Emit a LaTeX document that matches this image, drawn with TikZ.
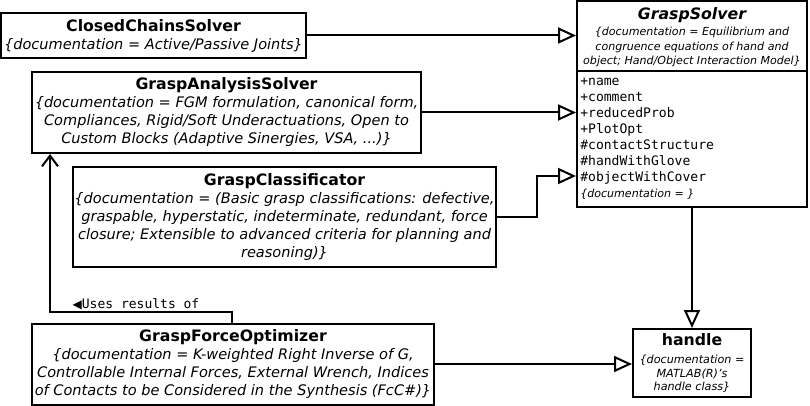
\documentclass[tikz,border=0pt]{standalone}
\usepackage{fontspec}
\setmainfont{DejaVu Sans}[Ligatures=ResetAll]
\setmonofont{DejaVu Sans Mono}
\newfontfamily\symfont{DejaVu Sans}
\usetikzlibrary{arrows.meta}
\newcommand\tfont{\fontsize{11.8}{13.5}\selectfont\bfseries\upshape}
\newcommand\dfont{\fontsize{10.9}{13.5}\selectfont\itshape}
\newcommand\sdfont{\fontsize{8.3}{10.9}\selectfont\itshape}
\begin{document}
\begin{tikzpicture}[x=0.75pt,y=-0.75pt,
  box/.style={draw, line width=1.5pt, rectangle, inner sep=0pt, align=center, fill=white, line join=miter},
  inh/.style={line width=1.5pt, -{Triangle[open,length=13.5pt,width=12pt]}},
  uses/.style={line width=1.5pt, -{Straight Barb[length=8pt,width=12pt]}},
  plain/.style={inner sep=0pt, align=center}]
\useasboundingbox[fill=white] (0,0) rectangle (810,406);
% boxes
\node[box, minimum width=228.75pt, minimum height=33.75pt, font=\dfont] (ccs) at (153.5,35.5)
  {{\tfont ClosedChainsSolver}\\ \{documentation = Active/Passive Joints\}};
\node[box, minimum width=291.75pt, minimum height=60.75pt, font=\dfont] (gas) at (226.5,112.5)
  {{\tfont GraspAnalysisSolver}\\ \{documentation = FGM formulation, canonical form,\\ Compliances, Rigid/Soft Underactuations, Open to\\ Custom Blocks (Adaptive Sinergies, VSA, ...)\}};
\node[box, minimum width=317.25pt, minimum height=75pt, font=\dfont] (gcl) at (284.5,217)
  {{\tfont GraspClassificator}\\ \{documentation = (Basic grasp classifications: defective,\\ graspable, hyperstatic, indeterminate, redundant, force\\ closure; Extensible to advanced criteria for planning and\\ reasoning)\}};
\node[box, minimum width=301.5pt, minimum height=60.75pt, font=\dfont] (gfo) at (233,364)
  {{\tfont GraspForceOptimizer}\\ \{documentation = K-weighted Right Inverse of G,\\ Controllable Internal Forces, External Wrench, Indices\\ of Contacts to be Considered in the Synthesis (FcC\#)\}};
\node[box, minimum width=172.5pt, minimum height=154.5pt] (gs) at (692,104) {};
\draw[line width=1.5pt] (gs.west |- 0,71) -- (gs.east |- 0,71);
\node[plain, font=\fontsize{11.8}{13.5}\selectfont\bfseries\itshape] (gst) at (692,15) {GraspSolver};
\node[plain, font=\sdfont] (gsd) at (692,47)
  {\{documentation = Equilibrium and\\ congruence equations of hand and\\ object; Hand/Object Interaction Model\}};
\node[anchor=north west, inner sep=0pt, align=left, font=\fontsize{9.8}{12}\selectfont\ttfamily] (attr) at (580,77.5)
  {+name\\ +comment\\ +reducedProb\\ +PlotOpt\\ \#contactStructure\\ \#handWithGlove\\ \#objectWithCover\\ {\rmfamily\sdfont \{documentation = \}}};
\node[box, minimum width=88.5pt, minimum height=51pt, font=\fontsize{8.4}{10.3}\selectfont\itshape] (hdl) at (692,363)
  {{\tfont handle}\\[3.5pt] \{documentation =\\ MATLAB(R)'s\\ handle class\}};
% connectors
\draw[inh] (ccs.east) -- (ccs.east -| gs.west);
\draw[inh] (gas.east) -- (gas.east -| gs.west);
\coordinate (cb) at (537,176);
\draw[inh] (gcl.east) -- (gcl.east -| cb) -- (cb) -- (cb -| gs.west);
\draw[inh] (gfo.east) -- (gfo.east -| hdl.west);
\draw[inh] (gs.south) -- (hdl.north);
\coordinate (ua) at (232,311.5);
\coordinate (ub) at (50,311.5);
\draw[uses] (gfo.north -| ua) -- (ua) -- (ub) -- (gas.south -| ub);
\node[plain, font=\fontsize{9.75}{11}\selectfont\ttfamily] (lbl) at (136,304) {{\symfont\fontsize{9}{9}\selectfont ◀}Uses results of};
\end{tikzpicture}
\end{document}
